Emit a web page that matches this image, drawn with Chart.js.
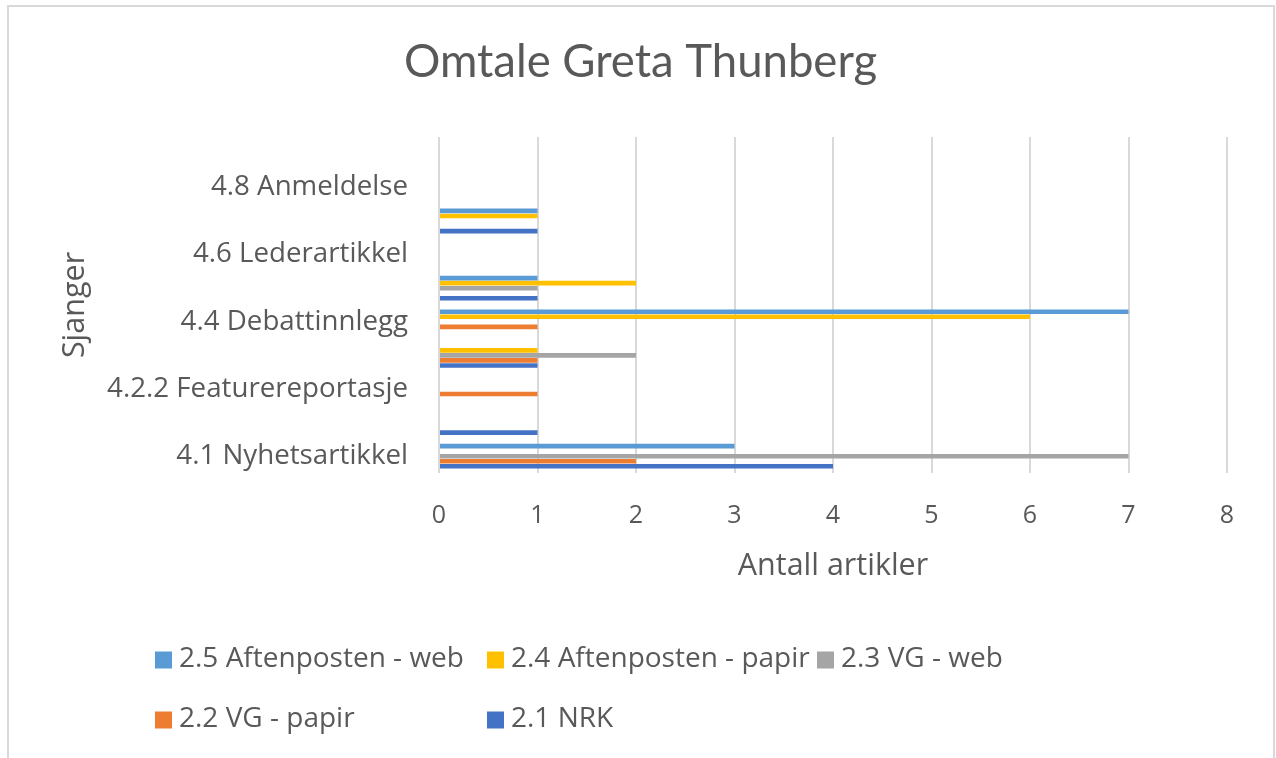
<!DOCTYPE html>
<html>
<head>
<meta charset="utf-8">
<script src="https://cdn.jsdelivr.net/npm/chart.js@4"></script>
<style>
  html, body { margin: 0; padding: 0; background: #ffffff; }
  #wrap { position: relative; width: 1276px; height: 758px; }
</style>
</head>
<body>
<div id="wrap"><canvas id="c" width="1276" height="758"></canvas></div>
<script>
// ---- data ----
const chartTitle = 'Omtale Greta Thunberg';
const xAxisTitle = 'Antall artikler';
const yAxisTitle = 'Sjanger';
// categories from bottom to top
const categories = [
  '4.1 Nyhetsartikkel',
  '4.2.1 Nyhetsreportasje',
  '4.2.2 Featurereportasje',
  '4.3 Intervju',
  '4.4 Debattinnlegg',
  '4.5 Kommentar',
  '4.6 Lederartikkel',
  '4.7 Kronikk',
  '4.8 Anmeldelse',
  '4.9 Annet'
];
const seriesNames = ['2.5 Aftenposten - web', '2.4 Aftenposten - papir', '2.3 VG - web', '2.2 VG - papir', '2.1 NRK'];
const aftenpostenWeb   = [3, 0, 0, 0, 7, 1, 0, 1, 0, 0];
const aftenpostenPapir = [0, 0, 0, 1, 6, 2, 0, 1, 0, 0];
const vgWeb            = [7, 0, 0, 2, 0, 1, 0, 0, 0, 0];
const vgPapir          = [2, 0, 1, 1, 1, 0, 0, 0, 0, 0];
const nrk              = [4, 1, 0, 1, 0, 1, 0, 1, 0, 0];
const xTickValues = [0, 1, 2, 3, 4, 5, 6, 7, 8];

// ---- styles ----
const seriesColors = ['#5B9BD5', '#FFC000', '#A5A5A5', '#ED7D31', '#4472C4'];
const seriesValues = [aftenpostenWeb, aftenpostenPapir, vgWeb, vgPapir, nrk];
const TEXT = '#595959';
const FONT = '"Open Sans"';
const TITLE_FONT = 'Lato';

const borderPlugin = {
  id: 'chartBorder',
  beforeDraw(chart) {
    const ctx = chart.ctx;
    ctx.save();
    ctx.fillStyle = '#ffffff';
    ctx.fillRect(0, 0, chart.width, chart.height);
    ctx.strokeStyle = '#d9d9d9';
    ctx.lineWidth = 2;
    ctx.strokeRect(8, 6, 1266, 800);
    ctx.restore();
  }
};

const gridLegend = {
  id: 'gridLegend',
  afterDraw(chart) {
    const ctx = chart.ctx;
    const cols = [155, 487, 817];
    const rows = [660, 720];
    ctx.save();
    ctx.font = '28px ' + FONT;
    ctx.textBaseline = 'middle';
    ctx.textAlign = 'left';
    chart.data.datasets.forEach((ds, i) => {
      const x = cols[i % 3];
      const y = rows[Math.floor(i / 3)];
      ctx.fillStyle = ds.backgroundColor;
      ctx.fillRect(x, y - 8.5, 17, 17);
      ctx.fillStyle = TEXT;
      ctx.fillText(ds.label, x + 24, y - 1);
    });
    ctx.restore();
  }
};

const datasets = seriesNames.map((name, i) => ({
  label: name,
  data: seriesValues[i],
  backgroundColor: seriesColors[i],
  borderWidth: 0,
  categoryPercentage: 0.75,
  barPercentage: 0.92
}));

new Chart(document.getElementById('c'), {
  type: 'bar',
  data: { labels: categories, datasets },
  options: {
    indexAxis: 'y',
    responsive: false,
    animation: false,
    devicePixelRatio: 1,
    layout: { padding: { left: 54, right: 49, top: 0, bottom: 173.5 } },
    plugins: {
      legend: { display: false },
      tooltip: { enabled: false },
      title: {
        display: true,
        text: chartTitle,
        color: TEXT,
        font: { family: TITLE_FONT, size: 45.5, weight: 'normal' },
        padding: { top: 35.1, bottom: 47.3 }
      }
    },
    scales: {
      x: {
        type: 'linear',
        min: xTickValues[0],
        max: xTickValues[xTickValues.length - 1],
        afterBuildTicks(scale) { scale.ticks = xTickValues.map(v => ({ value: v })); },
        afterFit(scale) { scale.height = 111.5; },
        grid: { color: '#d9d9d9', lineWidth: 2, drawTicks: false },
        border: { display: false },
        ticks: { color: TEXT, font: { family: FONT, size: 25 }, padding: 28 },
        title: {
          display: true, text: xAxisTitle, color: TEXT,
          font: { family: FONT, size: 30.5 }, padding: { top: 0, bottom: 0 }
        }
      },
      y: {
        type: 'category',
        reverse: true,
        grid: { display: false, drawTicks: false },
        border: { display: false },
        afterFit(scale) { scale.width = 385; },
        ticks: {
          color: TEXT,
          font: { family: FONT, size: 27.7 },
          padding: 31,
          autoSkip: false,
          callback(v) { return v % 2 === 0 ? categories[v] : ''; }
        },
        title: {
          display: true, text: yAxisTitle, color: TEXT,
          font: { family: FONT, size: 30.5 }, padding: { top: 3.2, bottom: 0 }
        }
      }
    }
  },
  plugins: [borderPlugin, gridLegend]
});
</script>
</body>
</html>
